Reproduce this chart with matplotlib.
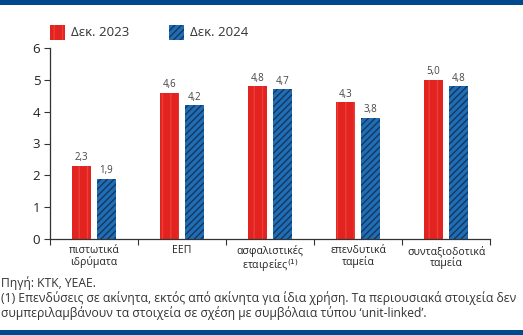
import numpy as np
import matplotlib.pyplot as plt
from matplotlib.patches import Rectangle

# Categories (two-line labels) and values (%)
categories = ["πιστωτικά\nιδρύματα", "ΕΕΠ", "ασφαλιστικές\nεταιρείες$^{(1)}$",
              "επενδυτικά\nταμεία", "συνταξιοδοτικά\nταμεία"]
dec_2023 = [2.3, 4.6, 4.8, 4.3, 5.0]
dec_2024 = [1.9, 4.2, 4.7, 3.8, 4.8]
series_names = ["Δεκ. 2023", "Δεκ. 2024"]
yticks = [0, 1, 2, 3, 4, 5, 6]

RED = "#e2231f"
RED_LINE = "#ea3f3a"
BLUE = "#1f6db4"
BLUE_LINE = "#16365f"
NAVY = "#00498d"

plt.rcParams['font.family'] = ["Open Sans", "DejaVu Sans"]
plt.rcParams['hatch.linewidth'] = 1.0

fig = plt.figure(figsize=(5.23, 3.35), dpi=100)
ax = fig.add_axes([50 / 523, 96 / 335, 440 / 523, 191 / 335])

x = np.arange(len(categories))
w = 0.227
off = 0.142

b1 = ax.bar(x - off, dec_2023, w, color=RED, edgecolor=RED_LINE, linewidth=0,
            hatch="||", zorder=2)
b2 = ax.bar(x + off, dec_2024, w, color=BLUE, edgecolor=BLUE_LINE, linewidth=0,
            hatch="/////", zorder=2)

# value labels above bars
for bars, vals in ((b1, dec_2023), (b2, dec_2024)):
    for r, v in zip(bars, vals):
        ax.text(r.get_x() + r.get_width() / 2, v + 0.08, f"{v:.1f}".replace(".", ","),
                ha="center", va="bottom", fontsize=7, color="#444444")

ax.set_xlim(-0.5, len(categories) - 0.5)
ax.set_ylim(0, 6)
ax.set_yticks(yticks)
ax.set_yticklabels([str(t) for t in yticks], fontsize=9.5, color="#222222")
ax.set_xticks(np.arange(len(categories) + 1) - 0.5)
ax.set_xticklabels([])
ax.tick_params(axis="y", length=4, width=0.8, color="#333333", pad=3)
ax.tick_params(axis="x", length=4, width=0.8, color="#333333")
for s in ("top", "right"):
    ax.spines[s].set_visible(False)
for s in ("left", "bottom"):
    ax.spines[s].set_color("#333333")
    ax.spines[s].set_linewidth(0.9)

for xi, lab in zip(x, categories):
    ax.text(xi, -0.2, lab, ha="center", va="top", fontsize=7.6, color="#222222",
            linespacing=1.0, transform=ax.transData)

# legend
for i, (name, col, ec, h) in enumerate(zip(series_names, (RED, BLUE),
                                           (RED_LINE, BLUE_LINE), ("||", "/////"))):
    x0 = (50 + 119 * i) / 523
    fig.patches.append(Rectangle((x0, (335 - 40) / 335), 15 / 523, 15 / 335,
                                 transform=fig.transFigure, facecolor=col,
                                 edgecolor=ec, linewidth=0, hatch=h))
    fig.text(x0 + 21 / 523, (335 - 32.5) / 335, name, fontsize=9.5,
             color="#333333", va="center", ha="left")

# footer notes
notes = ["Πηγή: ΚΤΚ, ΥΕΑΕ.",
         "(1) Επενδύσεις σε ακίνητα, εκτός από ακίνητα για ίδια χρήση. Τα περιουσιακά στοιχεία δεν",
         "συμπεριλαμβάνουν τα στοιχεία σε σχέση με συμβόλαια τύπου ‘unit-linked’."]
for i, line in enumerate(notes):
    fig.text(1 / 523, (335 - 283 - 15 * i) / 335, line, fontsize=8.7,
             color="#333333", va="center", ha="left")

# blue bands top and bottom
fig.patches.append(Rectangle((0, 1 - 5 / 335), 1, 5 / 335, transform=fig.transFigure,
                             facecolor=NAVY, edgecolor="none"))
fig.patches.append(Rectangle((0, 0), 1, 5 / 335, transform=fig.transFigure,
                             facecolor=NAVY, edgecolor="none"))

fig.savefig("out.png", dpi=100)
